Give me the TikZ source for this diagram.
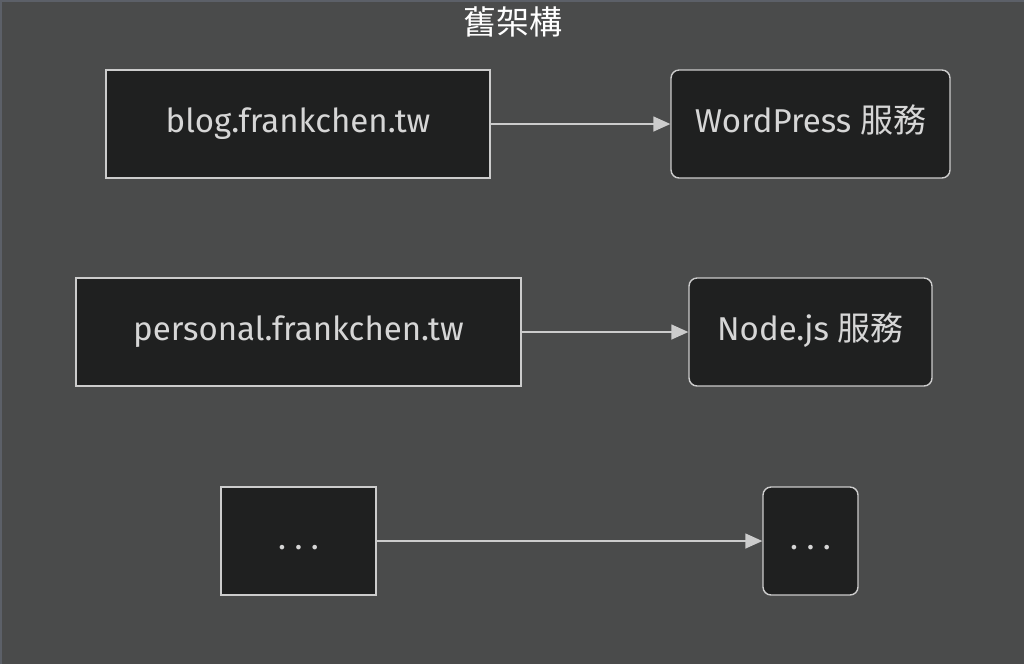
\documentclass[tikz,border=0pt]{standalone}
\usepackage{fontspec}
\setmainfont{Fira Sans}
\newfontfamily\cjkfont{Noto Sans CJK TC}
\definecolor{canvas}{RGB}{74,75,75}
\definecolor{frameline}{RGB}{92,96,104}
\definecolor{boxfill}{RGB}{31,32,32}
\definecolor{boxline}{RGB}{204,204,204}
\definecolor{boxtext}{RGB}{214,214,214}
\usetikzlibrary{arrows.meta, positioning}

\begin{document}
\begin{tikzpicture}[x=0.02cm, y=-0.02cm,
    every node/.style={font=\fontsize{18.8}{21}\selectfont, text=boxtext},
    host/.style={draw=boxline, fill=boxfill, line width=0.8pt, minimum height=2.16cm,
      inner sep=0pt, text height=0.36cm, text depth=0.04cm},
    svc/.style={host, rounded corners=0.16cm},
    link/.style={draw=boxline, line width=0.8pt, -{Triangle[length=0.34cm, width=0.3cm]}}]
  % canvas
  \fill[canvas] (0,0) rectangle (1024,664);
  \useasboundingbox (0,0) rectangle (1024,664);
  \draw[frameline, line width=1.2pt] (1,664) -- (1,1) -- (1024,1);

  \node[text=white] (title) at (513,22) {\cjkfont 舊架構};

  % hosts
  \node[host, minimum width=7.68cm] (blog) at (298,124) {blog.frankchen.tw};
  \node[host, minimum width=8.9cm] (personal) at (298.5,332) {personal.frankchen.tw};
  \node[host, minimum width=3.1cm] (other) at (298.5,541) {.\kern0.17cm.\kern0.17cm.};

  % services
  \node[svc, minimum width=5.58cm] (wp) at (810.5,124) {WordPress {\cjkfont 服務}};
  \node[svc, minimum width=4.86cm] (nodejs) at (810.5,332) {Node.js {\cjkfont 服務}};
  \node[svc, minimum width=1.9cm] (otherSvc) at (810.5,541) {.\kern0.17cm.\kern0.17cm.};

  \draw[link] (blog) -- (wp);
  \draw[link] (personal) -- (nodejs);
  \draw[link] (other) -- (otherSvc);
\end{tikzpicture}
\end{document}
